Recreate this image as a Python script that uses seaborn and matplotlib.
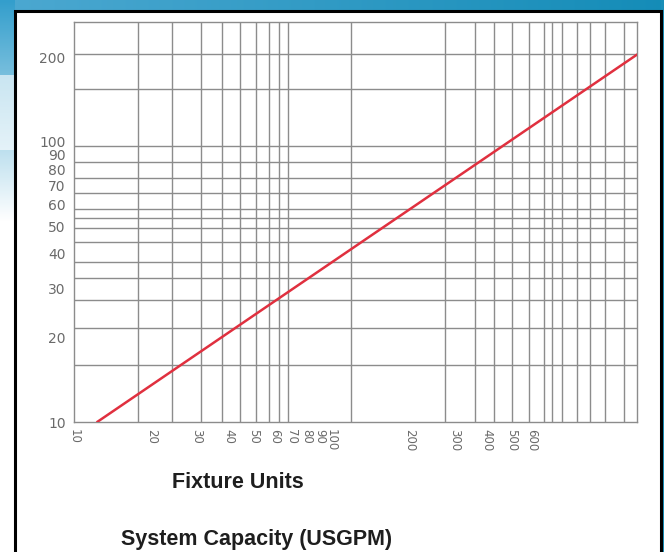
import numpy as np
import pandas as pd
import matplotlib
matplotlib.use("Agg")
import matplotlib.pyplot as plt
from matplotlib.ticker import FixedLocator, FixedFormatter, NullFormatter
from matplotlib.patches import Rectangle
import seaborn as sns

# ---- data ----
fixture_units = [12.3, 1533]          # x of the red line's two ends
capacity_usgpm = [10, 205]            # y of the red line's two ends
x_tick_values = [10, 20, 30, 40, 50, 60, 70, 80, 90, 100, 200, 300, 400, 500, 600]
x_tick_labels = ["10", "20", "30", "40", "50", "60", "70", "80", "90", "100",
                 "200", "300", "400", "500", "600"]
y_tick_values = [10, 20, 30, 40, 50, 60, 70, 80, 90, 100, 200]
y_tick_labels = ["10", "20", "30", "40", "50", "60", "70", "80", "90", "100", "200"]

# ---- layout: grid line positions as drawn in the reference ----
x_grid = [17.7, 24, 31, 37.5, 44, 51, 57, 62.5, 68, 80, 90, 119, 200, 275, 360,
          427, 502, 584, 668, 717, 784, 897, 1007, 1152, 1365]
y_grid = [16, 21.7, 27.3, 32.7, 37.3, 44, 49.3, 53.5, 57.7, 65.7, 74.4, 84.8,
          96.8, 154.5, 206]

sns.set_theme(style="white")
plt.rcParams["font.family"] = ["DejaVu Sans"]

W, H = 664, 552
fig = plt.figure(figsize=(W / 100, H / 100), dpi=100)
fig.patch.set_facecolor("white")

# ---- slide-like background (decoration) ----
img = np.ones((H, W, 3))
top_left = np.array([0.30, 0.66, 0.82])
top_right = np.array([0.08, 0.55, 0.72])
t = np.linspace(0, 1, W)[:, None]
img[:11, :, :] = (top_left * (1 - t) + top_right * t)[None, :, :]
fade = np.clip(np.linspace(0, 1, H) / 0.40, 0, 1)[:, None]
left_col = np.array([0.20, 0.62, 0.80]) * (1 - fade) + np.array([1, 1, 1]) * fade
img[:, :15, :] = left_col[:, None, :]
img[75:150, :15, :] = img[75:150, :15, :] * 0.4 + 0.6
img[:, 661:, :] = np.array([0.10, 0.56, 0.72])[None, None, :]
bg = fig.add_axes([0, 0, 1, 1], zorder=0)
bg.imshow(img, aspect="auto", extent=[0, 1, 0, 1])
bg.axis("off")

frame = Rectangle((14.5 / W, -0.05), (660.5 - 14.5) / W, 1 - 10.5 / H + 0.05,
                  transform=fig.transFigure, facecolor="white",
                  edgecolor="black", linewidth=2.2, zorder=1)
fig.add_artist(frame)

# ---- chart ----
ax = fig.add_axes([74 / W, 1 - 422 / H, (637 - 74) / W, (422 - 22) / H], zorder=2)
ax.set_facecolor("white")

df = pd.DataFrame({"Fixture Units": fixture_units,
                   "System Capacity (USGPM)": capacity_usgpm})
sns.lineplot(data=df, x="Fixture Units", y="System Capacity (USGPM)", ax=ax,
             color="#e0303f", linewidth=1.8, zorder=3)

ax.set_xscale("log")
ax.set_yscale("log")
ax.set_xlim(10, 1533)
ax.set_ylim(10, 268)

ax.xaxis.set_major_locator(FixedLocator(x_tick_values))
ax.xaxis.set_major_formatter(FixedFormatter(x_tick_labels))
ax.xaxis.set_minor_locator(FixedLocator(x_grid))
ax.xaxis.set_minor_formatter(NullFormatter())
ax.yaxis.set_major_locator(FixedLocator(y_tick_values))
ax.yaxis.set_major_formatter(FixedFormatter(y_tick_labels))
ax.yaxis.set_minor_locator(FixedLocator(y_grid))
ax.yaxis.set_minor_formatter(NullFormatter())

ax.tick_params(which="both", length=0)
ax.tick_params(axis="x", which="major", labelrotation=-90, pad=5,
               labelsize=8.5, labelcolor="#6a6a6a")
ax.tick_params(axis="y", which="major", pad=6, labelsize=10, labelcolor="#6a6a6a")

ax.grid(False, which="major")
ax.grid(True, which="minor", color="#8c8c8c", linewidth=1.0)
for s in ax.spines.values():
    s.set_visible(True)
    s.set_color("#8c8c8c")
    s.set_linewidth(1.0)

ax.set_xlabel("")
ax.set_ylabel("")

fig.text(237.5 / W, 1 - 482 / H, "Fixture Units", ha="center", va="center",
         fontsize=15.5, fontweight="bold", color="#1e1e1e",
         family=["Liberation Sans", "DejaVu Sans"])
fig.text(257 / W, 1 - 540 / H, "System Capacity (USGPM)", ha="center", va="center",
         fontsize=15.5, fontweight="bold", color="#1e1e1e",
         family=["Liberation Sans", "DejaVu Sans"])

fig.savefig("out.png", dpi=100)
